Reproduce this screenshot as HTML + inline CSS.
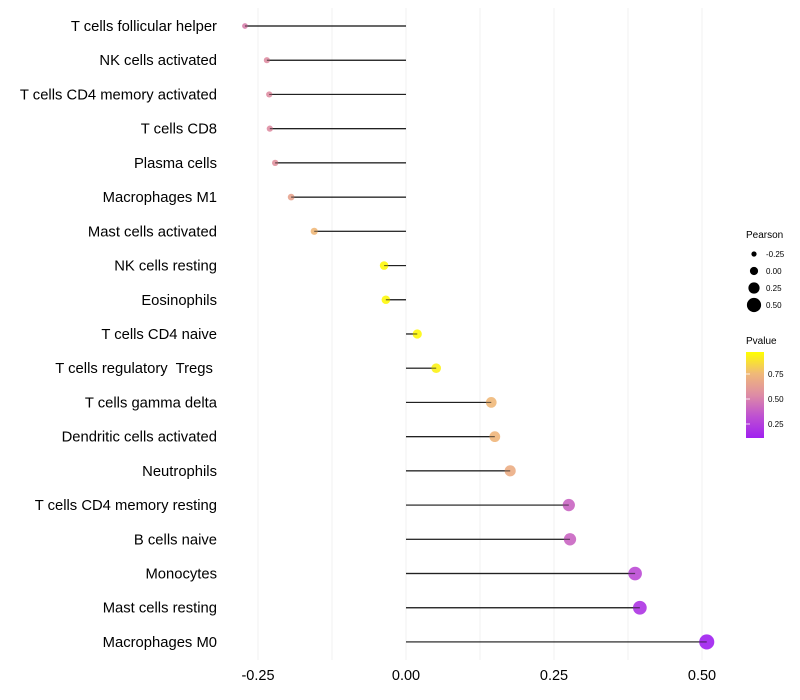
<!DOCTYPE html>
<html><head><meta charset="utf-8"><style>
html,body{margin:0;padding:0;background:#fff;}
svg{display:block;font-family:"Liberation Sans",sans-serif;}
svg text{white-space:pre;}
</style></head><body>
<svg id="chart" width="800" height="700" viewBox="0 0 800 700"></svg>
<script>
const categories=["T cells follicular helper","NK cells activated","T cells CD4 memory activated","T cells CD8","Plasma cells","Macrophages M1","Mast cells activated","NK cells resting","Eosinophils","T cells CD4 naive","T cells regulatory  Tregs ","T cells gamma delta","Dendritic cells activated","Neutrophils","T cells CD4 memory resting","B cells naive","Monocytes","Mast cells resting","Macrophages M0"];
const pearson=[-0.272,-0.235,-0.231,-0.230,-0.221,-0.194,-0.155,-0.037,-0.034,0.019,0.051,0.144,0.150,0.176,0.275,0.277,0.387,0.395,0.508];
const pvalue=[0.5,0.55,0.55,0.55,0.57,0.65,0.75,0.95,0.95,0.95,0.93,0.75,0.74,0.7,0.4,0.4,0.3,0.2,0.11];
const xTicks=[-0.25,0,0.25,0.5];
const xTickLabels=["-0.25","0.00","0.25","0.50"];
const sizeLegend=[-0.25,0,0.25,0.5];
const sizeLegendLabels=["-0.25","0.00","0.25","0.50"];
const colorLegend=[0.75,0.5,0.25];
const colorLegendLabels=["0.75","0.50","0.25"];

const NS="http://www.w3.org/2000/svg";
const svg=document.getElementById('chart');
function el(tag,attrs,parent){const e=document.createElementNS(NS,tag);for(const k in attrs)e.setAttribute(k,attrs[k]);(parent||svg).appendChild(e);return e;}
const xScale=v=>406+v*592;
const yScale=i=>26+i*34.22;
const rScale=v=>Math.max(1.5,4.5+v*6);
const stops=[[0,[160,32,240]],[0.25,[190,80,210]],[0.5,[222,140,165]],[0.75,[240,185,120]],[1,[255,255,0]]];
const pmin=0.11,pmax=0.97;
function color(p){let t=(p-pmin)/(pmax-pmin);t=Math.max(0,Math.min(1,t));
 for(let i=0;i<stops.length-1;i++){const a=stops[i],b=stops[i+1];if(t<=b[0]){const f=(t-a[0])/(b[0]-a[0]);const c=a[1].map((v,j)=>Math.round(v+(b[1][j]-v)*f));return `rgb(${c})`;}}return 'rgb(255,255,0)';}

for(let g=-0.25;g<=0.5001;g+=0.125){
 const l=el('line',{x1:xScale(g),x2:xScale(g),y1:8,y2:660,stroke:'#f0f0f0','stroke-width':1});
 
 
}
xTicks.forEach((v,i)=>{
 const t=el('text',{x:xScale(v),y:680,'text-anchor':'middle','font-size':14.5,fill:'#000'});
 t.textContent=xTickLabels[i];
 
 
});
categories.forEach((c,i)=>{
 const y=yScale(i);
 const t=el('text',{x:217,y:y+5,'text-anchor':'end','font-size':14.8,fill:'#000'});
 t.textContent=c;
 
 
 const l=el('line',{x1:xScale(0),x2:xScale(pearson[i]),y1:y,y2:y,stroke:'#222','stroke-width':1.2});
 
 
 const d=el('circle',{cx:xScale(pearson[i]),cy:y,r:rScale(pearson[i]),fill:color(pvalue[i]),'fill-opacity':0.9});
 
 
 const l2=el('line',{x1:xScale(0),x2:xScale(pearson[i]),y1:y,y2:y,stroke:'#222','stroke-width':1.2,'stroke-opacity':0.6});
 
 
});
const st=el('text',{x:746,y:238,'font-size':10,fill:'#000'});st.textContent='Pearson';


sizeLegend.forEach((v,i)=>{
 const y=254+i*17;
 const c=el('circle',{cx:754,cy:y,r:Math.max(2.2,rScale(v)-0.4),fill:'#000'});
 
 
 const t=el('text',{x:766,y:y+3,'font-size':8,fill:'#000'});t.textContent=sizeLegendLabels[i];
 
 
});
const ct=el('text',{x:746,y:344,'font-size':10,fill:'#000'});ct.textContent='Pvalue';


const defs=el('defs',{});
const lg=el('linearGradient',{id:'pg',x1:0,y1:1,x2:0,y2:0},defs);
stops.forEach(s=>el('stop',{offset:s[0],'stop-color':`rgb(${s[1]})`},lg));
const cb=el('rect',{x:746,y:352,width:18,height:86,fill:'url(#pg)'});


colorLegend.forEach((v,i)=>{
 const y=438-(v-pmin)/(pmax-pmin)*86;
 const tk=el('line',{x1:746,x2:750,y1:y,y2:y,stroke:'#fff','stroke-width':0.8});
 
 
 const t=el('text',{x:768,y:y+3,'font-size':8,fill:'#000'});t.textContent=colorLegendLabels[i];
 
 
});
</script>
</body></html>
